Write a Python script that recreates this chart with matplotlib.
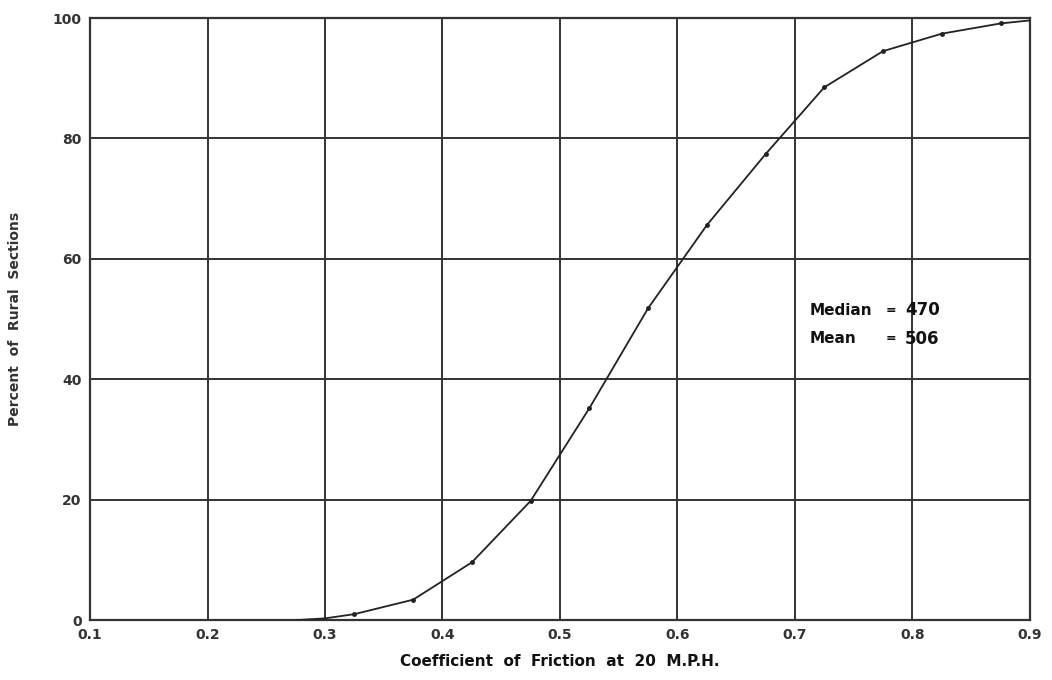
import matplotlib
matplotlib.use("Agg")
import matplotlib.pyplot as plt

# Data
friction = [0.275, 0.30, 0.325, 0.375, 0.425, 0.475, 0.525, 0.575, 0.625, 0.675, 0.725, 0.775, 0.825, 0.875, 0.90]
percent = [0.0, 0.3, 1.0, 3.4, 9.6, 19.8, 35.2, 51.8, 65.6, 77.4, 88.5, 94.5, 97.4, 99.1, 99.6]
marked = [False, False, True, True, True, True, True, True, True, True, True, True, True, True, False]

x_ticks = [0.1, 0.2, 0.3, 0.4, 0.5, 0.6, 0.7, 0.8, 0.9]
x_tick_labels = ["0.1", "0.2", "0.3", "0.4", "0.5", "0.6", "0.7", "0.8", "0.9"]
y_ticks = [0, 20, 40, 60, 80, 100]
y_tick_labels = ["0", "20", "40", "60", "80", "100"]

stat_names = ["Median", "Mean"]
stat_values = ["470", "506"]

plt.rcParams['font.family'] = ['DejaVu Sans']

fig = plt.figure(figsize=(10.52, 6.80), dpi=100)
ax = fig.add_axes([0.0856, 0.088, 0.8934, 0.8855])

ax.set_xlim(0.1, 0.9)
ax.set_ylim(0, 100)

ax.plot(friction, percent, color="#222222", lw=1.3, zorder=3)
mx = [f for f, m in zip(friction, marked) if m]
my = [p for p, m in zip(percent, marked) if m]
ax.plot(mx, my, 'o', color="#222222", ms=2.5, zorder=4)

ax.set_xticks(x_ticks)
ax.set_xticklabels(x_tick_labels, fontsize=10, fontweight='bold', color="#333333")
ax.set_yticks(y_ticks)
ax.set_yticklabels(y_tick_labels, fontsize=10, fontweight='bold', color="#333333")
ax.tick_params(length=0, pad=6)

ax.grid(True, color="#333333", lw=1.4)
ax.set_axisbelow(True)
for s in ax.spines.values():
    s.set_color("#333333")
    s.set_linewidth(1.6)

ax.set_xlabel("Coefficient  of  Friction  at  20  M.P.H.", fontsize=11, fontweight='bold', labelpad=8, color="#111111")
ax.set_ylabel("Percent  of  Rural  Sections", fontsize=10, fontweight='bold', labelpad=22, color="#333333")

for i, (n, v) in enumerate(zip(stat_names, stat_values)):
    yy = 51.5 - i * 4.8
    ax.text(0.7125, yy, n, fontsize=11, fontweight='bold', va='center', ha='left', color="#111111")
    ax.text(0.7775, yy, "=", fontsize=9, fontweight='bold', va='center', ha='left', color="#111111")
    ax.text(0.7935, yy, v, fontsize=12, fontweight='bold', va='center', ha='left', color="#111111")

fig.savefig("out.png", dpi=100)
